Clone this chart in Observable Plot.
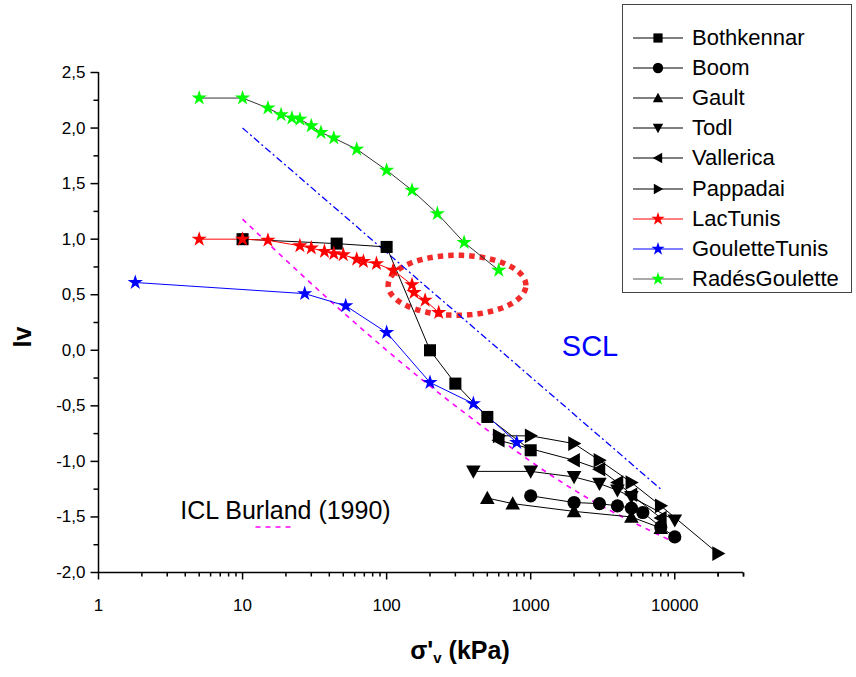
<!DOCTYPE html>
<html><head><meta charset="utf-8">
<script src="https://cdn.jsdelivr.net/npm/d3@7"></script>
<script src="https://cdn.jsdelivr.net/npm/@observablehq/plot@0.6"></script>
<style>
body{margin:0;background:#fff}
#wrap{position:relative;width:856px;height:677px;font-family:"Liberation Sans",Arial,sans-serif;color:#000}
#xtitle{position:absolute;left:460px;top:638px;transform:translateX(-50%);font-weight:bold;font-size:25px;line-height:1;white-space:nowrap}
#xtitle sub{font-size:15px;vertical-align:-4px}
#legend{position:absolute;left:622px;top:4px;width:230px;height:289px;border:1px solid #444;box-sizing:border-box;background:#fff}
.row{position:absolute;left:0;height:24px}
.row span{position:absolute;left:69px;top:0;font-size:22px;line-height:24px;white-space:nowrap}
.row svg{position:absolute;left:9px;top:0}
</style>
</head><body>
<div id="wrap"><div id="xtitle">σ'<sub>v</sub> (kPa)</div></div>
<script>
// ---------------- data ----------------
const seriesNames = ["Bothkennar","Boom","Gault","Todl","Vallerica","Pappadai","LacTunis","GouletteTunis","RadésGoulette"];

const bothX = [10, 45, 100, 200, 300, 500, 1000];
const bothY = [1.0, 0.96, 0.93, 0.0, -0.3, -0.6, -0.9];

const boomX = [1000, 2000, 3000, 4000, 5000, 6000, 8000, 10000];
const boomY = [-1.31, -1.37, -1.38, -1.40, -1.42, -1.46, -1.59, -1.68];

const gaultX = [500, 750, 2000, 5000, 8000];
const gaultY = [-1.33, -1.38, -1.45, -1.50, -1.60];

const todlX = [400, 1000, 2000, 3000, 4000, 5000, 10000];
const todlY = [-1.09, -1.09, -1.14, -1.20, -1.26, -1.32, -1.53];

const valX = [600, 2000, 3000, 4000, 5000, 8000];
const valY = [-0.81, -0.99, -1.07, -1.19, -1.30, -1.51];

const papX = [600, 1000, 2000, 3000, 5000, 8000, 20000];
const papY = [-0.77, -0.77, -0.84, -0.99, -1.19, -1.40, -1.83];

const lacX = [5, 10, 15, 25, 30, 37, 43, 50, 62, 69, 85, 111, 150, 155, 185, 230];
const lacY = [1.0, 1.0, 0.99, 0.94, 0.92, 0.89, 0.87, 0.86, 0.82, 0.80, 0.78, 0.72, 0.59, 0.52, 0.45, 0.34];

const gouX = [1.8, 27, 52, 100, 200, 400, 800];
const gouY = [0.61, 0.51, 0.40, 0.16, -0.29, -0.48, -0.83];

const radX = [5, 10, 15, 18.5, 22, 25, 30, 35, 43, 62, 100, 150, 225, 345, 600];
const radY = [2.27, 2.27, 2.18, 2.12, 2.09, 2.08, 2.02, 1.96, 1.91, 1.81, 1.62, 1.44, 1.23, 0.97, 0.72];

const sclX = [10, 8000];
const sclY = [2.0, -1.25];

const iclX = [10, 30, 100, 300, 1000, 3000, 10000];
const iclY = [1.18, 0.60, 0.0, -0.50, -1.0, -1.39, -1.73];

const xTicks = [1, 10, 100, 1000, 10000];
const xTickLabels = ["1", "10", "100", "1000", "10000"];
const yTicks = [-2, -1.5, -1, -0.5, 0, 0.5, 1, 1.5, 2, 2.5];
const yTickLabels = ["-2,0", "-1,5", "-1,0", "-0,5", "0,0", "0,5", "1,0", "1,5", "2,0", "2,5"];

// ---------------- helpers ----------------
const zip = (xs, ys) => xs.map((x, i) => ({x, y: ys[i]}));
const rad = s => Math.sqrt(s / Math.PI);
const triUp = {draw(c, s){const r = rad(s); c.moveTo(-r, 0.8*r); c.lineTo(r, 0.8*r); c.lineTo(0, -r); c.closePath();}};
const triDown = {draw(c, s){const r = rad(s); c.moveTo(-r, -0.8*r); c.lineTo(r, -0.8*r); c.lineTo(0, r); c.closePath();}};
const triLeft = {draw(c, s){const r = rad(s); c.moveTo(0.8*r, -r); c.lineTo(0.8*r, r); c.lineTo(-r, 0); c.closePath();}};
const triRight = {draw(c, s){const r = rad(s); c.moveTo(-0.8*r, -r); c.lineTo(-0.8*r, r); c.lineTo(r, 0); c.closePath();}};
const tickDown = n => ({draw(c){c.moveTo(0, 0); c.lineTo(0, n);}});
const tickLeft = n => ({draw(c){c.moveTo(0, 0); c.lineTo(-n, 0);}});

const series = [
  {name: seriesNames[0], data: zip(bothX, bothY), symbol: d3.symbolSquare, r: 6.8, fill: "#000", line: "#000"},
  {name: seriesNames[1], data: zip(boomX, boomY), symbol: d3.symbolCircle, r: 6.6, fill: "#000", line: "#000"},
  {name: seriesNames[2], data: zip(gaultX, gaultY), symbol: triUp, r: 7.3, fill: "#000", line: "#000"},
  {name: seriesNames[3], data: zip(todlX, todlY), symbol: triDown, r: 7.3, fill: "#000", line: "#000"},
  {name: seriesNames[4], data: zip(valX, valY), symbol: triLeft, r: 7.3, fill: "#000", line: "#000"},
  {name: seriesNames[5], data: zip(papX, papY), symbol: triRight, r: 7.3, fill: "#000", line: "#000"},
  {name: seriesNames[6], data: zip(lacX, lacY), symbol: d3.symbolStar, r: 4.8, fill: "#ff0000", line: "#ff0000"},
  {name: seriesNames[7], data: zip(gouX, gouY), symbol: d3.symbolStar, r: 4.8, fill: "#0000ff", line: "#0000ff"},
  {name: seriesNames[8], data: zip(radX, radY), symbol: d3.symbolStar, r: 4.8, fill: "#00ff00", line: "#333"}
];

const minorX = [];
for (let e = 0; e < 5; e++) for (let k = 2; k <= 9; k++) { const v = k * 10 ** e; if (v <= 30000) minorX.push(v); }
minorX.push(20000, 30000);
const minorY = yTicks.slice(0, -1).map(v => v + 0.25);

const ellipseAngles = d3.range(0, 361, 2);

const marks = [
  // ellipse highlight
  Plot.line(ellipseAngles, {
    x: t => 10 ** (Math.log10(308) + 0.478 * Math.cos(t * Math.PI / 180)),
    y: t => 0.585 + 0.27 * Math.sin(t * Math.PI / 180),
    stroke: "#f22a2a", strokeWidth: 5.5, strokeDasharray: "5.5,5", strokeLinecap: "butt", curve: "linear"
  }),
  // reference lines
  Plot.line(zip(sclX, sclY), {x: "x", y: "y", stroke: "#0000ff", strokeWidth: 1.3, strokeDasharray: "7,3,2,3", strokeLinecap: "butt"}),
  Plot.line(zip(iclX, iclY), {x: "x", y: "y", stroke: "#ff00ff", strokeWidth: 1.6, strokeDasharray: "5,5", strokeLinecap: "butt", curve: "natural"}),
  // axes lines
  Plot.ruleY([-2], {stroke: "#000", strokeWidth: 1.5}),
  Plot.ruleX([1], {stroke: "#000", strokeWidth: 1.5}),
  Plot.dot(xTicks, {x: d => d, y: -2, symbol: tickDown(7), r: 1, stroke: "#000", strokeWidth: 1.5, fill: "none"}),
  Plot.dot(minorX, {x: d => d, y: -2, symbol: tickDown(4), r: 1, stroke: "#000", strokeWidth: 1.5, fill: "none"}),
  Plot.dot(yTicks, {x: 1, y: d => d, symbol: tickLeft(8), r: 1, stroke: "#000", strokeWidth: 1.5, fill: "none"}),
  Plot.dot(minorY, {x: 1, y: d => d, symbol: tickLeft(5), r: 1, stroke: "#000", strokeWidth: 1.5, fill: "none"}),
  Plot.text(xTicks, {x: d => d, y: -2, text: (d, i) => xTickLabels[i], dy: 33, fontSize: 17, fill: "#000"}),
  Plot.text(yTicks, {x: 1, y: d => d, text: (d, i) => yTickLabels[i], dx: -13, textAnchor: "end", fontSize: 17, fill: "#000"}),
  Plot.text(["Iv"], {frameAnchor: "left", dx: -76, dy: 25, rotate: -90, fontSize: 25, fontWeight: "bold", fill: "#000"}),
  // annotations
  Plot.text(["SCL"], {x: 2580, y: 0.03, fontSize: 29, fill: "#0000ff"}),
  Plot.text(["ICL Burland (1990)"], {x: 3.7, y: -1.45, textAnchor: "start", fontSize: 25, fill: "#000"}),
  Plot.line(zip([12.3, 23.2], [-1.59, -1.59]), {x: "x", y: "y", stroke: "#ff00ff", strokeWidth: 1.6, strokeDasharray: "5,5", strokeLinecap: "butt"})
];
for (const s of series) marks.push(Plot.line(s.data, {x: "x", y: "y", stroke: s.line, strokeWidth: 1}));
for (const s of series) marks.push(Plot.dot(s.data, {x: "x", y: "y", symbol: s.symbol, r: s.r, fill: s.fill, stroke: "none"}));

const chart = Plot.plot({
  width: 856, height: 677,
  marginLeft: 98, marginRight: 113, marginTop: 72, marginBottom: 105,
  x: {type: "log", domain: [1, 30000], axis: null},
  y: {domain: [-2, 2.5], axis: null},
  style: {fontFamily: "'Liberation Sans', Arial, sans-serif", background: "#fff", color: "#000", overflow: "visible"},
  marks
});
const wrap = document.getElementById("wrap");
wrap.insertBefore(chart, wrap.firstChild);

// legend
const legend = document.createElement("div");
legend.id = "legend";
series.forEach((s, i) => {
  const row = document.createElement("div");
  row.className = "row";
  row.style.top = (20.5 + 30.2 * i) + "px";
  row.style.width = "226px";
  const svg = d3.create("svg").attr("width", 56).attr("height", 24);
  svg.append("line").attr("x1", 1).attr("x2", 51).attr("y1", 12).attr("y2", 12).attr("stroke", s.line === "#333" ? "#555" : s.line).attr("stroke-width", 1);
  const area = s.symbol === d3.symbolStar ? Math.PI * 4.2 * 4.2 : Math.PI * 5.2 * 5.2;
  svg.append("path").attr("transform", "translate(26,12)").attr("d", d3.symbol(s.symbol, area)()).attr("fill", s.fill);
  row.appendChild(svg.node());
  const span = document.createElement("span");
  span.textContent = s.name;
  row.appendChild(span);
  legend.appendChild(row);
});
wrap.appendChild(legend);
</script>
</body></html>
